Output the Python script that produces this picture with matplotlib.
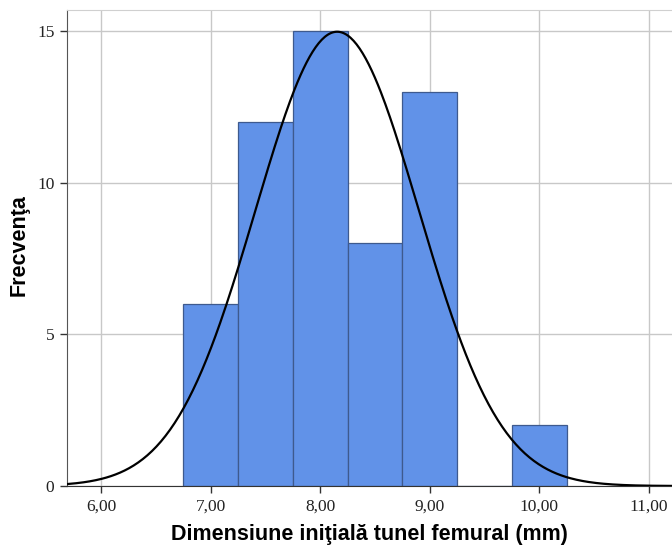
import numpy as np
import matplotlib
matplotlib.use('Agg')
import matplotlib.pyplot as plt

# histogram bins (mm) and counts
bin_edges = [6.75, 7.25, 7.75, 8.25, 8.75, 9.25, 9.75, 10.25]
counts = [6, 12, 15, 8, 13, 0, 2]
x_ticks = [6, 7, 8, 9, 10, 11]
x_tick_labels = ['6,00', '7,00', '8,00', '9,00', '10,00', '11,00']
y_ticks = [0, 5, 10, 15]

# normal curve parameters (SPSS overlay)
mean_val = 8.155
sd_val = 0.746
n_total = sum(counts)
bin_w = 0.5

fig = plt.figure(figsize=(6.72, 5.5), dpi=100)
ax = fig.add_axes([67/672, 64/550, 605/672, 476/550])

ax.hist(bin_edges[:-1], bins=bin_edges, weights=counts,
        color='#6192e8', edgecolor='#3e5a8e', linewidth=0.9, zorder=2)

xs = np.linspace(5.69, 11.21, 400)
ys = n_total * bin_w / (sd_val * np.sqrt(2 * np.pi)) * np.exp(-0.5 * ((xs - mean_val) / sd_val) ** 2)
ax.plot(xs, ys, color='black', lw=1.6, zorder=3)

ax.set_xlim(5.69, 11.21)
ax.set_ylim(0, 15.69)
ax.set_xticks(x_ticks)
ax.set_xticklabels(x_tick_labels)
ax.set_yticks(y_ticks)
ax.grid(True, color='#c8c8c8', lw=1, zorder=0)
ax.set_axisbelow(True)

for lab in ax.get_xticklabels() + ax.get_yticklabels():
    lab.set_fontfamily('Liberation Serif')
    lab.set_fontsize(12.5)
    lab.set_color('#222222')
ax.tick_params(direction='out', length=5, width=1, color='#333333', pad=4)

ax.spines['left'].set_color('#555555')
ax.spines['bottom'].set_color('#333333')
ax.spines['top'].set_color('#d0d0d0')
ax.spines['right'].set_visible(False)

ax.set_xlabel('Dimensiune iniţială tunel femural (mm)', fontfamily='Liberation Sans',
              fontweight='bold', fontsize=15.5, labelpad=7)
ax.set_ylabel('Frecvenţa', fontfamily='Liberation Sans', fontweight='bold',
              fontsize=15.5)
ax.yaxis.set_label_coords(-0.062, 0.507)

fig.savefig('out.png', dpi=100)
